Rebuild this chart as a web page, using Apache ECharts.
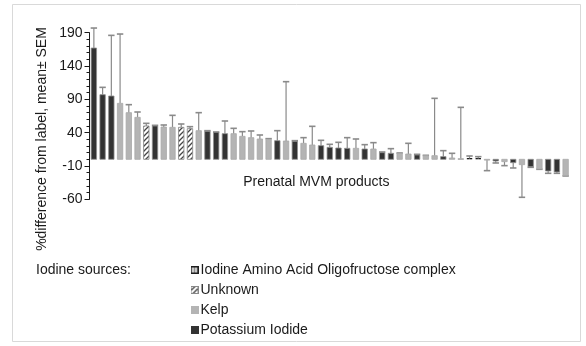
<!DOCTYPE html>
<html>
<head>
<meta charset="utf-8">
<script src="https://cdn.jsdelivr.net/npm/echarts@6/dist/echarts.min.js"></script>
<style>
  html, body { margin: 0; padding: 0; background: #fff; }
  #chart { width: 586px; height: 346px; }
</style>
</head>
<body>
<div id="chart"></div>
<script>
// Iodine sources shown in the legend
const sourceNames = [
  'Iodine Amino Acid Oligofructose complex',
  'Unknown',
  'Kelp',
  'Potassium Iodide'
];
// Iodine source of each product (A = amino acid complex, U = unknown, L = kelp, K = potassium iodide)
const productSource = [
  'K','K','K','L','L','L','U','K','L','L',
  'U','U','L','K','K','K','L','L','L','L',
  'L','K','L','K','L','L','K','K','K','K',
  'L','K','L','K','K','L','L','K','L','L',
  'K','L','L','A','A','L','K','L','K','L',
  'K','L','K','K','L'
];
// Mean % difference from label for each product
const meanDiff = [
  167, 97, 95, 84, 70, 63, 50, 50, 48.5, 48,
  48, 46, 43, 42, 40.5, 38.5, 38.5, 34.5, 32.5, 30.5,
  30, 28, 27.5, 27, 24, 21.5, 20.5, 18, 17, 16.5,
  16.5, 15.5, 15.5, 10, 9, 9, 8, 6.5, 5.5, 5.5,
  4, 2, 1, 2, 2, -1, -2.5, -3.5, -5, -8,
  -11, -14.5, -17.5, -19, -24.5
];
// Standard error of the mean for each product
const semValues = [
  30, 11, 91, 104, 12, 8, 4, 1, 3, 18,
  5, 3, 27, 1, 0.5, 19, 8, 7, 10, 6,
  1, 15, 89, 1, 8.5, 28, 8, 4.5, 8.5, 16,
  14, 6.5, 9.5, 1, 7, 0.5, 16, 1, 0.5, 86,
  9, 7, 77, 3, 2, 16, 3, 6, 8, 49,
  1, 0.5, 3.5, 2, 0.5
];
// Value axis range and tick spacing
const yMin = -60;
const yMax = 190;
const yStep = 50;

const productLabels = meanDiff.map((_, i) => 'P' + (i + 1));
const sourceCodes = ['A', 'U', 'L', 'K'];

const FONT = 'Liberation Sans, Arial, sans-serif';
const DARK = '#333333';
const LIGHT = '#b4b4b4';
const ERR = '#8a8a8a';

// diagonal hatch used for products of unknown source
function makeHatch() {
  const c = document.createElement('canvas');
  c.width = 5; c.height = 5;
  const g = c.getContext('2d');
  g.fillStyle = '#ffffff';
  g.fillRect(0, 0, 5, 5);
  g.strokeStyle = '#444444';
  g.lineWidth = 1.3;
  g.beginPath();
  g.moveTo(-1, 6); g.lineTo(6, -1);
  g.moveTo(-1, 1); g.lineTo(1, -1);
  g.moveTo(4, 6); g.lineTo(6, 4);
  g.stroke();
  return c;
}
const hatch = makeHatch();

function makeIcon(code) {
  const c = document.createElement('canvas');
  c.width = 8; c.height = 8;
  const g = c.getContext('2d');
  if (code === 'A') {
    g.fillStyle = '#1e1e1e'; g.fillRect(0, 0, 8, 8);
    g.fillStyle = '#ffffff'; g.fillRect(1.5, 1.5, 2, 5); g.fillRect(4.5, 1.5, 2, 5);
  } else if (code === 'U') {
    g.fillStyle = g.createPattern(hatch, 'repeat'); g.fillRect(0, 0, 8, 8);
    g.strokeStyle = '#888'; g.lineWidth = 1; g.strokeRect(0.5, 0.5, 7, 7);
  } else if (code === 'L') {
    g.fillStyle = LIGHT; g.fillRect(0, 0, 8, 8);
  } else {
    g.fillStyle = DARK; g.fillRect(0, 0, 8, 8);
  }
  return 'image://' + c.toDataURL();
}

const BAR_W = 5.4;

function barRenderer(code) {
  return function (params, api) {
    const idx = api.value(0);
    const v = api.value(1);
    const p0 = api.coord([idx, 0]);
    const p1 = api.coord([idx, v]);
    const x = p0[0] - BAR_W / 2;
    const y = Math.min(p0[1], p1[1]);
    const h = Math.max(Math.abs(p0[1] - p1[1]), 0.8);
    if (code === 'A') {
      return {
        type: 'group',
        children: [
          { type: 'rect', shape: { x: x, y: y, width: BAR_W, height: h }, style: { fill: '#1e1e1e' } },
          { type: 'rect', shape: { x: p0[0] - 0.6, y: y + 0.8, width: 1.2, height: Math.max(h - 1.6, 0.4) }, style: { fill: '#ffffff' } }
        ]
      };
    }
    let style;
    if (code === 'U') style = { fill: { image: hatch, repeat: 'repeat' }, stroke: '#8c8c8c', lineWidth: 0.9 };
    else if (code === 'L') style = { fill: LIGHT, stroke: '#a8a8a8', lineWidth: 0.8 };
    else style = { fill: DARK, stroke: '#8f8f8f', lineWidth: 0.8 };
    return { type: 'rect', shape: { x: x, y: y, width: BAR_W, height: h }, style: style };
  };
}

function errorRenderer(params, api) {
  const idx = api.value(0);
  const m = api.value(1);
  const s = api.value(2);
  const end = m >= 0 ? m + s : m - s;
  const a = api.coord([idx, m]);
  const b = api.coord([idx, end]);
  const cap = 3.2;
  return {
    type: 'group',
    children: [
      { type: 'line', shape: { x1: a[0], y1: a[1], x2: b[0], y2: b[1] }, style: { stroke: ERR, lineWidth: 1.2 } },
      { type: 'line', shape: { x1: b[0] - cap, y1: b[1], x2: b[0] + cap, y2: b[1] }, style: { stroke: ERR, lineWidth: 1.6 } }
    ]
  };
}

// title of the category axis, placed just under the zero line
function axisTitleRenderer(params, api) {
  const p = api.coord([api.value(0), 0]);
  return {
    type: 'text',
    x: p[0] + 4, y: p[1] + 23,
    style: {
      text: 'Prenatal MVM products', fontSize: 14, fill: '#1a1a1a',
      fontFamily: FONT, align: 'center', verticalAlign: 'middle'
    }
  };
}

const barSeries = sourceCodes.map((code, k) => ({
  type: 'custom',
  name: sourceNames[k],
  renderItem: barRenderer(code),
  clip: false,
  z: 3,
  encode: { x: 0, y: 1 },
  itemStyle: { color: code === 'K' ? DARK : code === 'L' ? LIGHT : '#666' },
  data: meanDiff.map((v, i) => [i, v]).filter((d, i) => productSource[i] === code)
}));

const errorSeries = {
  type: 'custom',
  name: 'SEM',
  renderItem: errorRenderer,
  clip: false,
  z: 2,
  encode: { x: 0, y: [1, 2] },
  data: meanDiff.map((v, i) => [i, v, semValues[i]])
};

const titleSeries = {
  type: 'custom',
  name: 'axis title',
  renderItem: axisTitleRenderer,
  clip: false,
  silent: true,
  encode: { x: 0 },
  data: [[25]]
};

const chart = echarts.init(document.getElementById('chart'), null, { renderer: 'canvas' });
chart.setOption({
  animation: false,
  backgroundColor: '#ffffff',
  textStyle: { fontFamily: FONT },
  grid: { left: 89.5, right: 16, top: 32.7, bottom: 146.7, containLabel: false },
  xAxis: {
    type: 'category',
    data: productLabels,
    boundaryGap: true,
    axisLine: { show: false },
    axisTick: { show: false },
    axisLabel: { show: false },
    splitLine: { show: false }
  },
  yAxis: {
    type: 'value',
    min: yMin,
    max: yMax,
    interval: yStep,
    axisLine: { show: true, lineStyle: { color: '#1a1a1a', width: 1 } },
    axisTick: { show: true, inside: false, length: 5, lineStyle: { color: '#1a1a1a' } },
    minorTick: { show: true, splitNumber: 5, length: 3, lineStyle: { color: '#1a1a1a' } },
    splitLine: { show: false },
    axisLabel: { fontSize: 14, color: '#1a1a1a', margin: 7, fontFamily: FONT }
  },
  legend: {
    orient: 'vertical',
    left: 190.5,
    top: 260,
    padding: 0,
    itemWidth: 8,
    itemHeight: 8,
    itemGap: 0,
    selectedMode: false,
    textStyle: { fontSize: 14, color: '#1a1a1a', lineHeight: 20, padding: [0, 0, 0, -3], fontFamily: FONT },
    data: sourceCodes.map((code, k) => ({ name: sourceNames[k], icon: makeIcon(code) }))
  },
  graphic: [
    {
      type: 'rect',
      shape: { x: 12.5, y: 4.5, width: 568, height: 337 },
      style: { fill: 'none', stroke: '#d9d9d9', lineWidth: 1 },
      silent: true, z: -10
    },
    {
      type: 'text',
      x: 42, y: 139,
      rotation: Math.PI / 2,
      style: {
        text: '%difference from label, mean± SEM',
        fontSize: 14, fill: '#1a1a1a',
        fontFamily: FONT,
        align: 'center', verticalAlign: 'middle'
      }
    },
    {
      type: 'text',
      x: 36, y: 270,
      style: {
        text: 'Iodine sources:',
        fontSize: 14, fill: '#1a1a1a',
        fontFamily: FONT,
        align: 'left', verticalAlign: 'middle'
      }
    }
  ],
  series: [errorSeries].concat(barSeries, [titleSeries])
});
</script>
</body>
</html>
